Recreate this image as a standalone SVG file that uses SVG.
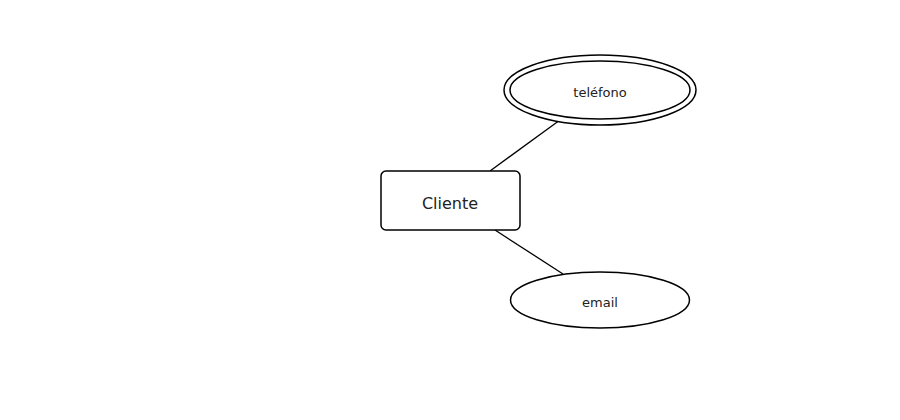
<svg xmlns="http://www.w3.org/2000/svg" width="900" height="420" viewBox="0 0 900 420">
<style>
.s{fill:#fff;stroke:#000;stroke-width:1.5}
.t{font-family:"DejaVu Sans",sans-serif;fill:#222;text-anchor:middle;dominant-baseline:central}
.c{stroke:#000;stroke-width:1.3;fill:none}
</style>
<rect width="900" height="420" fill="#fff"/>
<g id="connectors">
<line class="c" x1="490" y1="171" x2="560" y2="120"/>
<line class="c" x1="495" y1="230" x2="563" y2="274"/>
</g>
<g id="cliente">
<rect class="s" x="381" y="171" width="139" height="59" rx="5"/>
<text class="t" x="450" y="203" font-size="16">Cliente</text>
</g>
<g id="telefono">
<ellipse class="s" cx="600" cy="90" rx="96" ry="35"/>
<ellipse class="s" cx="600" cy="90" rx="90" ry="29"/>
<text class="t" x="600" y="92" font-size="13">teléfono</text>
</g>
<g id="email">
<ellipse class="s" cx="600" cy="300" rx="89.5" ry="28"/>
<text class="t" x="600" y="302" font-size="13">email</text>
</g>
</svg>
